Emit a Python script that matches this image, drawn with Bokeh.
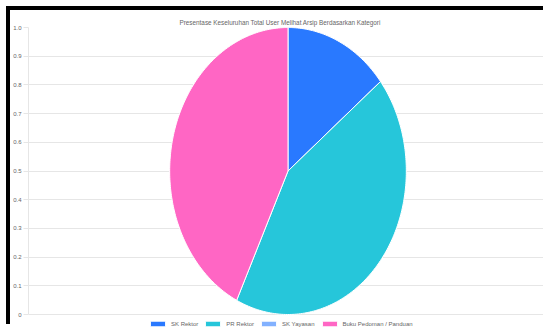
import numpy as np
from bokeh.plotting import figure
from bokeh.models import Range1d, FixedTicker, Legend, LegendItem, Title, GlobalInlineStyleSheet
from bokeh.embed import file_html
from bokeh.resources import INLINE

title_text = "Presentase Keseluruhan Total User Melihat Arsip Berdasarkan Kategori"
categories = ["SK Rektor", "PR Rektor", "SK Yayasan", "Buku Pedoman / Panduan"]
values = [1, 3, 0, 3]
colors = ["#2979FF", "#26C6DA", "#82B1FF", "#FF66C4"]
ytick_values = [0, 0.1, 0.2, 0.3, 0.4, 0.5, 0.6, 0.7, 0.8, 0.9, 1.0]
ytick_labels = ["0", "0.1", "0.2", "0.3", "0.4", "0.5", "0.6", "0.7", "0.8", "0.9", "1.0"]

W, H = 537, 318
RX = 119.0            # px per x unit (horizontal semi-axis of the pie)
PX_PER_Y = 287.0      # px per y unit
FRAME_TOP = 17
BOTTOM_EXTRA = H - FRAME_TOP - PX_PER_Y   # space below y=0 inside frame (legend)

p = figure(width=W, height=H, output_backend="svg", toolbar_location=None,
           x_range=Range1d(-261 / RX, 261 / RX),
           y_range=Range1d(-BOTTOM_EXTRA / PX_PER_Y, 1),
           min_border_left=15, min_border_right=0, min_border_top=FRAME_TOP,
           min_border_bottom=0)
p.styles = {"border-top": "4px solid black", "border-left": "4px solid black",
            "margin-left": "6px", "margin-top": "6px", "margin-bottom": "-12px",
            "vertical-align": "top"}
p.stylesheets = [GlobalInlineStyleSheet(css="html, body { overflow: hidden; }")]

p.outline_line_color = None

p.title = Title(text=title_text, align="left", offset=151, standoff=4,
                text_font="Liberation Sans", text_font_size="6.35px",
                text_font_style="normal", text_color="#666666")

p.yaxis.ticker = FixedTicker(ticks=ytick_values)
p.yaxis.bounds = (0, 1)
p.yaxis.major_label_overrides = {v: l for v, l in zip(ytick_values, ytick_labels)}
p.yaxis.major_label_text_font = "Liberation Sans"
p.yaxis.major_label_text_font_size = "6px"
p.yaxis.major_label_text_color = "#666666"
p.yaxis.axis_line_color = "#e6e6e6"
p.yaxis.major_tick_line_color = "#e6e6e6"
p.yaxis.major_tick_out = 5
p.yaxis.major_tick_in = 0
p.yaxis.minor_tick_line_color = None
p.yaxis.major_label_standoff = 2

p.xaxis.visible = False

p.xgrid.grid_line_color = None
p.ygrid.ticker = FixedTicker(ticks=ytick_values)
p.ygrid.grid_line_color = "#e6e6e6"

cx, cy, rx, ry = 0.0, 0.5, 1.0, 0.5
total = float(sum(values))
items = []
start = 0.0
for cat, v, c in zip(categories, values, colors):
    frac = v / total
    end = start + frac
    if frac > 0:
        n = max(int(frac * 400), 2)
        th = np.linspace(start * 2 * np.pi, end * 2 * np.pi, n)
        xs = list(np.concatenate([[cx], cx + rx * np.sin(th)]))
        ys = list(np.concatenate([[cy], cy + ry * np.cos(th)]))
    else:
        xs, ys = [cx], [cy]
    r = p.patch(xs, ys, fill_color=c, line_color="white", line_width=1)
    items.append(LegendItem(label=cat, renderers=[r]))
    start = end

legend = Legend(items=items, orientation="horizontal", location=(120, 1),
                glyph_width=19, glyph_height=7, label_standoff=4, spacing=5,
                padding=0, margin=0, border_line_color=None,
                background_fill_alpha=0,
                label_text_font="Liberation Sans", label_text_font_size="6px",
                label_text_color="#666666", label_height=7)
p.add_layout(legend, "center")

open("out.html", "w").write(file_html(p, INLINE))
